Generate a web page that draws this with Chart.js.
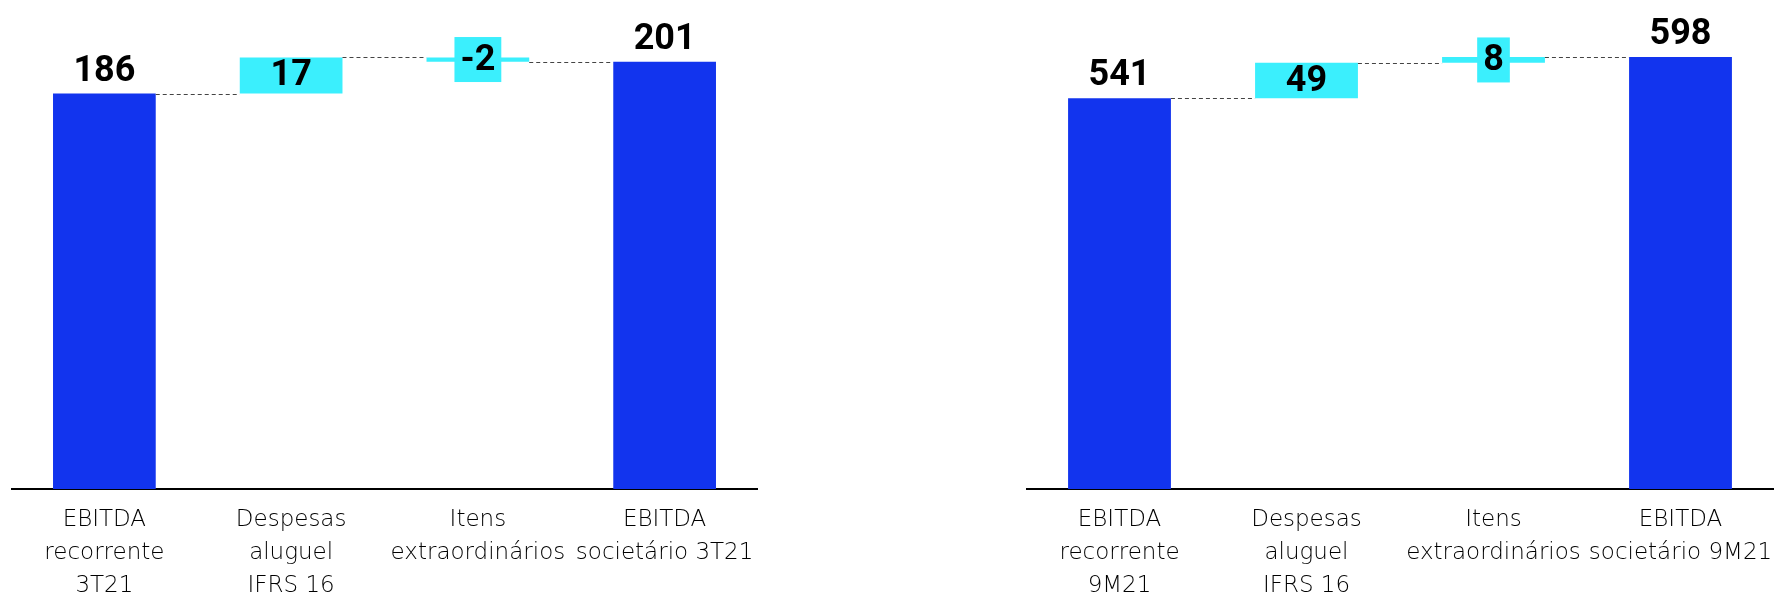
<!DOCTYPE html>
<html>
<head>
<meta charset="utf-8">
<script src="https://cdn.jsdelivr.net/npm/chart.js@4.4.1/dist/chart.umd.min.js"></script>
<style>
    body { margin: 0; background: #fff; }
    #wrap { position: relative; width: 1774px; height: 594px; }
    .box { position: absolute; top: 0; height: 594px; }
    #left { left: 11px; width: 747px; }
    #right { left: 1026px; width: 748px; }
</style>
</head>
<body>
<div id="wrap">
    <div class="box" id="left"><canvas id="chart-3t"></canvas></div>
    <div class="box" id="right"><canvas id="chart-9m"></canvas></div>
</div>
<script>
// data
const labels3T = [['EBITDA', 'recorrente', '3T21'], ['Despesas', 'aluguel', 'IFRS 16'], ['Itens', 'extraordinários'], ['EBITDA', 'societário 3T21']];
const values3T = [186, 17, -2, 201];
const labels9M = [['EBITDA', 'recorrente', '9M21'], ['Despesas', 'aluguel', 'IFRS 16'], ['Itens', 'extraordinários'], ['EBITDA', 'societário 9M21']];
const values9M = [541, 49, 8, 598];
const barKinds = ['total', 'delta', 'delta', 'total'];

const BLUE = '#1234EE';
const CYAN = '#3BEFFD';

// turn values into floating [start, end] ranges
function toRanges(values) {
    let run = 0;
    return values.map(function(v, i) {
        if (barKinds[i] === 'total') {
            run = v;
            return [0, v];
        }
        const r = [run, run + v];
        run += v;
        return r;
    });
}

const waterfallPlugin = {
    id: 'waterfall',
    afterDatasetsDraw(chart) {
        const ctx = chart.ctx;
        const ds = chart.data.datasets[0];
        const bars = chart.getDatasetMeta(0).data;
        const y = chart.scales.y;

        // dashed connectors
        ctx.save();
        ctx.strokeStyle = '#444';
        ctx.lineWidth = 1;
        ctx.setLineDash([4, 3]);
        for (let i = 0; i < bars.length - 1; i++) {
            const level = ds.data[i][1];
            const py = Math.round(y.getPixelForValue(level)) + 0.5;
            ctx.beginPath();
            ctx.moveTo(bars[i].x + bars[i].width / 2, py);
            ctx.lineTo(bars[i + 1].x - bars[i + 1].width / 2, py);
            ctx.stroke();
        }
        ctx.restore();

        // value labels
        ctx.save();
        ctx.font = 'bold 36px Roboto, "Open Sans", sans-serif';
        ctx.textAlign = 'center';
        ctx.fillStyle = '#000';
        bars.forEach(function(bar, i) {
            const text = String(ds.values[i]);
            const r = ds.data[i];
            if (barKinds[i] === 'total') {
                ctx.textBaseline = 'alphabetic';
                ctx.fillText(text, bar.x, y.getPixelForValue(r[1]) - 13);
            } else {
                const y1 = y.getPixelForValue(r[0]);
                const y2 = y.getPixelForValue(r[1]);
                const cy = (y1 + y2) / 2;
                // thin bars get a little box behind the number
                if (Math.abs(y1 - y2) < 30) {
                    const tw = ctx.measureText(text).width;
                    ctx.fillStyle = CYAN;
                    ctx.fillRect(bar.x - tw / 2 - 6, cy - 22.5, tw + 12, 45);
                    ctx.fillStyle = '#000';
                }
                ctx.textBaseline = 'middle';
                ctx.fillText(text, bar.x, cy + 1);
            }
        });
        ctx.restore();
    }
};

function makeChart(id, labels, values, yMax) {
    return new Chart(document.getElementById(id).getContext('2d'), {
        type: 'bar',
        data: {
            labels: labels,
            datasets: [{
                data: toRanges(values),
                values: values,
                backgroundColor: barKinds.map(k => k === 'total' ? BLUE : CYAN),
                borderWidth: 0,
                borderSkipped: false,
                categoryPercentage: 1,
                barPercentage: 0.55
            }]
        },
        options: {
            responsive: true,
            maintainAspectRatio: false,
            animation: false,
            layout: { padding: 0 },
            plugins: {
                legend: { display: false },
                tooltip: { enabled: false }
            },
            scales: {
                x: {
                    grid: { display: false, drawTicks: false },
                    border: { display: true, color: '#000', width: 2 },
                    ticks: {
                        color: '#000',
                        font: { family: '"DejaVu Sans", sans-serif', size: 23, weight: '200', lineHeight: 1.44 },
                        padding: 14,
                        maxRotation: 0,
                        autoSkip: false
                    },
                    afterFit: function(scale) {
                        scale.height = 105;
                        scale.paddingLeft = 0;
                        scale.paddingRight = 0;
                    }
                },
                y: {
                    display: false,
                    min: 0,
                    max: yMax
                }
            }
        },
        plugins: [waterfallPlugin]
    });
}

makeChart('chart-3t', labels3T, values3T, 230);
makeChart('chart-9m', labels9M, values9M, 677);
</script>
</body>
</html>
